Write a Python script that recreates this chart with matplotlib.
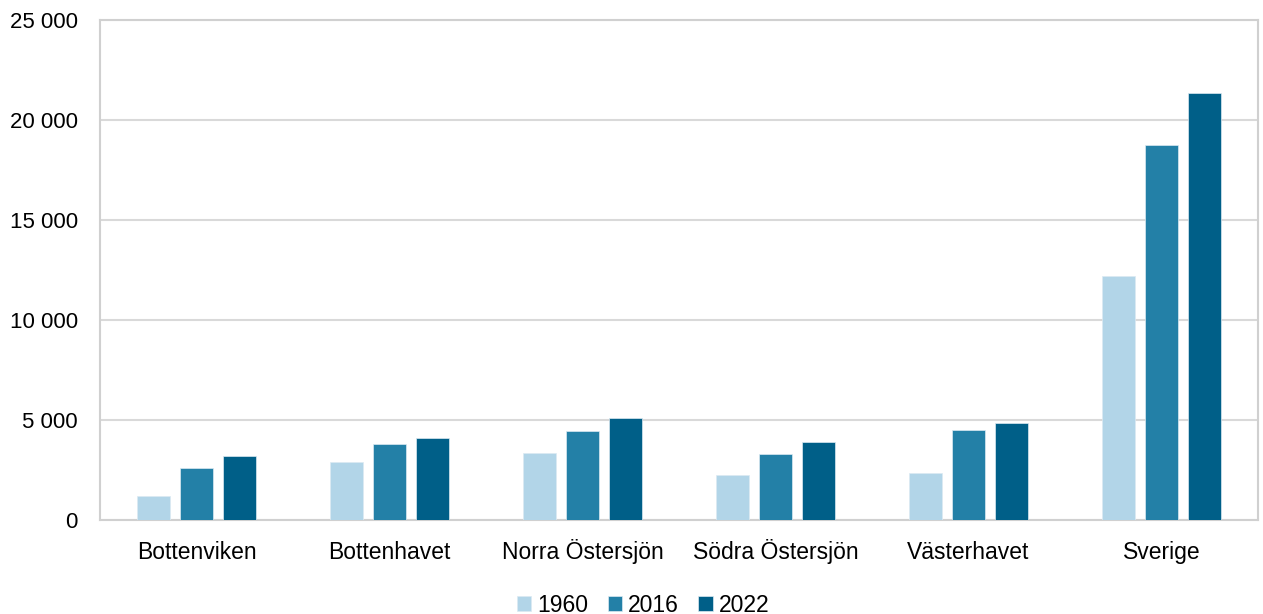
import numpy as np
import matplotlib.pyplot as plt
from matplotlib.ticker import FuncFormatter

plt.rcParams['font.family'] = ['Liberation Sans', 'DejaVu Sans']

regions = ["Bottenviken", "Bottenhavet", "Norra Östersjön", "Södra Östersjön", "Västerhavet", "Sverige"]
years = ["1960", "2016", "2022"]
v1960 = [1190, 2900, 3350, 2250, 2370, 12220]
v2016 = [2600, 3800, 4470, 3300, 4480, 18770]
v2022 = [3200, 4120, 5100, 3920, 4850, 21370]
series = [v1960, v2016, v2022]
colors = ["#B2D5E8", "#2380A7", "#005F88"]

fig = plt.figure(figsize=(12.63, 6.14), dpi=100)
ax = fig.add_axes([100/1263, 1 - 520/614, 1158/1263, 500/614])

x = np.arange(len(regions))
w = 0.172
step = 0.223
for i, (vals, c, lab) in enumerate(zip(series, colors, years)):
    ax.bar(x + (i - 1) * step, vals, w, color=c, label=lab, zorder=3,
           edgecolor="#DCEAF2", linewidth=0.5)

ax.set_xlim(-0.5, len(regions) - 0.5)
ax.set_ylim(0, 25000)
ax.set_yticks(np.arange(0, 25001, 5000))
ax.yaxis.set_major_formatter(FuncFormatter(lambda v, p: f"{int(v):,}".replace(",", " ")))
ax.set_xticks(x)
ax.set_xticklabels(regions)
ax.tick_params(axis="both", length=0, labelsize=16, colors="#000000")
ax.tick_params(axis="x", labelsize=16.5)
ax.tick_params(axis="y", pad=16)
ax.tick_params(axis="x", pad=28)
for t in ax.get_xticklabels():
    t.set_verticalalignment("baseline")
ax.grid(axis="y", color="#D9D9D9", linewidth=1.5, zorder=0)
for s in ax.spines.values():
    s.set_color("#D0D0D0")
    s.set_linewidth(1.5)

ax.legend(loc="center", bbox_to_anchor=(0.469, -0.17), ncol=3, frameon=False,
          fontsize=16.5, handlelength=0.62, handleheight=0.62, handletextpad=0.27,
          columnspacing=0.85, borderaxespad=0)

fig.savefig("out.png", dpi=100)
